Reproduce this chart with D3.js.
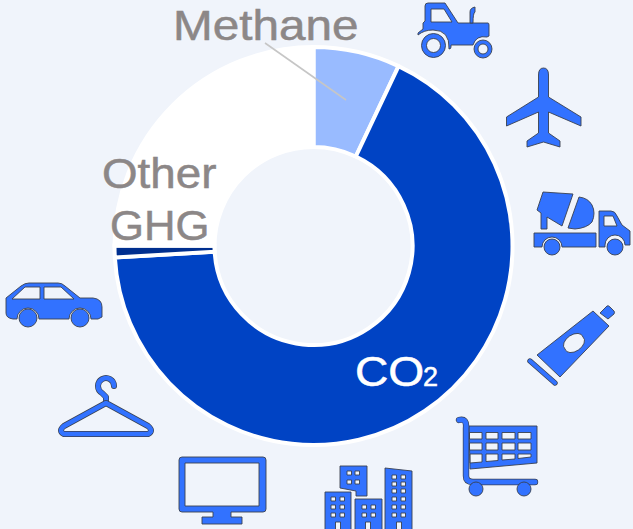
<!DOCTYPE html>
<html><head><meta charset="utf-8">
<script src="https://cdn.jsdelivr.net/npm/d3@7"></script>
<style>html,body{margin:0;padding:0;background:#f0f4fb;overflow:hidden}svg{display:block}text{font-family:"Liberation Sans",Arial,sans-serif}</style>
</head><body><svg id="c" width="633" height="529"></svg>
<script>
const categories = ["Methane","CO2","Other GHG","Remainder"];
const shares = [7.03,67.05,0.95,24.97];
const sliceColors = ["#99bbff","#0043c4","#002f8f","#ffffff"];
const iconBlue="#3072ff", iconLine="#3a4150", labelGrey="#8c8787";

const svg=d3.select("#c");
svg.append("defs").append("filter").attr("id","soft").attr("x","-5%").attr("y","-5%").attr("width","110%").attr("height","110%")
  .append("feGaussianBlur").attr("stdDeviation",0.35);

const cx=313.5, cy=246;
const pie=d3.pie().sort(null).value(d=>d)(shares);
const arc=d3.arc().innerRadius(99).outerRadius(199);
svg.append("g").attr("transform",`translate(${cx},${cy})`)
  .selectAll("path").data(pie).join("path").attr("d",arc)
  .attr("fill",(d,i)=>sliceColors[i]).attr("stroke","#fff").attr("stroke-width",4).attr("stroke-linejoin","miter");

svg.append("line").attr("x1",265).attr("y1",43).attr("x2",346).attr("y2",100).attr("stroke","#c6c6c6").attr("stroke-width",1.6);

function label(t,x,y,size,col,sx){
  svg.append("text").attr("transform",`translate(${x},${y}) scale(${sx},1)`).attr("font-size",size).attr("fill",col)
    .attr("stroke",col).attr("stroke-width",0.5).text(t);
}
label("Methane",173,40,42,labelGrey,1.135);
label("Other",102,188,42,labelGrey,1.09);
label("GHG",110,240,42,labelGrey,1.04);
label("CO",355,386,42,"#fff",1.1);
label("2",423,386,27,"#fff",1);

const icons=svg.append("g").attr("filter","url(#soft)");
function shape(d,rule){icons.append("path").attr("d",d).attr("fill",iconBlue).attr("fill-rule",rule||"evenodd").attr("stroke",iconLine).attr("stroke-width",0.9).attr("stroke-linejoin","round");}
function circle(x,y,r){return `M${x-r},${y}a${r},${r} 0 1,0 ${2*r},0a${r},${r} 0 1,0 ${-2*r},0Z`;}
function line(d,w){
  icons.append("path").attr("d",d).attr("fill","none").attr("stroke",iconLine).attr("stroke-width",w+1.4).attr("stroke-linecap","round").attr("stroke-linejoin","round");
  icons.append("path").attr("d",d).attr("fill","none").attr("stroke",iconBlue).attr("stroke-width",w).attr("stroke-linecap","round").attr("stroke-linejoin","round");
}

// tractor
shape("M425,6Q425,3 428,3H445L458,23H488Q489,23 489,25V36L487,37Q476,35 473,45H451V47Q451,49 449,49Q450,30 433,30Q424,30 418,35L418,33L423,29V23L425,21ZM431,9V22H452L444,9Z");
shape("M470,23V12Q470,8 475,7V12Q473,13 473,23Z");
shape(circle(433.5,45.5,12)+circle(433.5,45.5,7));
shape(circle(483,49,9)+circle(483,49,5));
// airplane
shape("M538.5,75Q538.5,68 543.5,68Q548.5,68 548.5,75V97L581,117V126L548.5,112V133L560,141V147L543.5,142L527,147V141L538.5,133V112L506.5,126V117L538.5,97Z");
// mixer truck
shape("M543,192L573,194L562,226L547,217V229H541V213L537,210Z");
shape("M579,197Q588,198 592,205Q596,213 592,222Q587,228 575,229L568,228Z");
shape("M534,233H596V247H562A10,10 0 0,0 542,247H534Z");
shape("M599,211H611Q615,211 617,216L622,225L630,231V245H625A10,10 0 0,0 605,245L605,247H599ZM604,216V226H617L613,216Z");
shape(circle(552,247,8)); shape(circle(615,247,8));
// tube
shape("M593,311L609,326L560,377L537,355ZM583,337A11,7 -35 1,0 565,349A11,7 -35 1,0 583,337Z");
shape("M600,313L607,306Q608,305 610,307L614,311Q615,312 614,314L608,319Z");
line("M530,361L555,383",4);
// cart
shape("M469,426H537V463L470,469ZM469.5,432.5V439H482V432.5ZM486,432.5V439H498V432.5ZM502,432.5V439H515V432.5ZM518,432.5V439H531V432.5ZM469.5,443V450H482V443ZM486,443V450H498V443ZM502,443V450H515V443ZM518,443V450H531V443ZM470,454V463L482,462V454ZM486,454V461.5L498,460.5V454ZM502,454V460L515,459V454ZM518,454V458.5L531,457V454Z");
line("M459,420Q467,418 466,428V476Q466,482 473,482H535",5);
shape(circle(476,489,7)); shape(circle(524,489,7));
// buildings
const winA=[[349,473],[357,473],[349,482],[357,482]];
const winB=[333,342].flatMap(x=>[499,507,515].map(y=>[x,y]));
const winC=[364,373].flatMap(x=>[507,515].map(y=>[x,y]));
const winD=[394,403].flatMap(x=>[477,484,491,499,507,515].map(y=>[x,y]));
function win(w){return w.map(([x,y])=>`M${x-2},${y-2}h4.5v4h-4.5Z`).join("");}
function door(x){return `M${x-2.5},532V522h5v10Z`;}
shape("M340,466H367V496H356V491L340,488Z"+win(winA));
shape("M325,492H351V532H325Z"+win(winB)+door(338));
shape("M355,499H382V532H355Z"+win(winC)+door(368));
shape("M385,468L412,471V532H385Z"+win(winD)+door(399));
// monitor
shape("M182,457H263Q266,457 266,460V509Q266,512 263,512H231V517H242V524H202V517H213V512H182Q179,512 179,509V460Q179,457 182,457ZM185,463V506H259V463Z");
// hanger
line("M106,403L106,397L102,393A8,8 0 1,1 114,386",4.6);
line("M106,403L64,426Q58,431 64,434H148Q154,431 148,426Z",4.6);
// car
shape("M6,298L21,286Q25,283 29,283H58Q62,283 65,286L80,298H93Q102,299 102,307V317L98,319H91A11,11 0 0,0 69,319H39A11,11 0 0,0 17,319H13Q6,318 6,313ZM12,299H40V287H25ZM44,287V299H74L61,287Z");
shape(circle(28,318,9)); shape(circle(80,318,9));
</script></body></html>
